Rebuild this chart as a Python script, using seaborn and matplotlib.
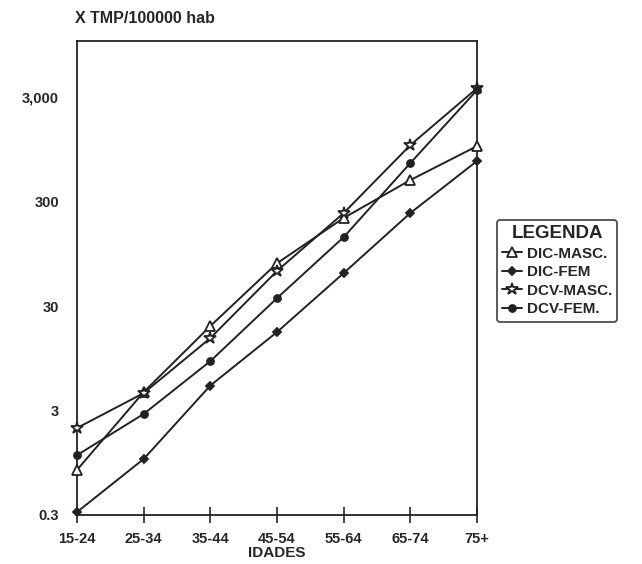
# taxas de mortalidade por idade (escala log)

import pandas as pd
import matplotlib
matplotlib.use("Agg")
import matplotlib.pyplot as plt
import seaborn as sns

idades = ["15-24", "25-34", "35-44", "45-54", "55-64", "65-74", "75+"]

dic_masc = [0.81, 4.5, 19.3, 77, 209, 482, 1019]
dic_fem = [0.32, 1.03, 5.2, 16.9, 62, 233, 733]
dcv_masc = [2.04, 4.4, 14.8, 65, 233, 1042, 3650]
dcv_fem = [1.12, 2.78, 8.9, 35.7, 137, 701, 3500]

series = ["DIC-MASC.", "DIC-FEM", "DCV-MASC.", "DCV-FEM."]
y_ticks = [0.3, 3, 30, 300, 3000]
y_tick_labels = ["0.3", "3", "30", "300", "3,000"]

sns.set_style("white")
plt.rcParams["font.family"] = ["Liberation Sans", "DejaVu Sans"]
plt.rcParams["font.weight"] = "bold"


def main():
    df = pd.DataFrame({
        "idade": idades * 4,
        "taxa": dic_masc + dic_fem + dcv_masc + dcv_fem,
        "serie": [s for s in series for _ in idades],
    })

    estilos = {
        "DIC-MASC.": dict(marker="^", markersize=7, markerfacecolor="white"),
        "DIC-FEM": dict(marker="D", markersize=4.5, markerfacecolor="#222222"),
        "DCV-MASC.": dict(marker="*", markersize=9, markerfacecolor="white"),
        "DCV-FEM.": dict(marker="o", markersize=5, markerfacecolor="#222222"),
    }

    fig = plt.figure(figsize=(6.42, 5.64), dpi=100)
    ax = fig.add_axes([0.12, 0.087, 0.623, 0.84])

    for s in series:
        sub = df[df["serie"] == s]
        sns.lineplot(data=sub, x="idade", y="taxa", ax=ax, color="#222222",
                     linewidth=1.4, markeredgecolor="#222222",
                     markeredgewidth=1.3, label=s, sort=False,
                     clip_on=False, zorder=3, **estilos[s])

    ax.set_yscale("log")
    ax.set_ylim(0.3, 10300)
    ax.set_xlim(0, 6)
    ax.set_yticks(y_ticks)
    ax.set_yticklabels(y_tick_labels)
    ax.minorticks_off()
    ax.tick_params(axis="y", length=0, pad=13, labelsize=10.5)
    ax.tick_params(axis="x", direction="inout", length=12, width=1.2,
                   bottom=True, labelsize=10.5, pad=6)
    for sp in ax.spines.values():
        sp.set_color("#222222")
        sp.set_linewidth(1.3)

    ax.set_xlabel("IDADES", fontsize=11, fontweight="bold", labelpad=0)
    ax.set_ylabel("")
    fig.text(0.117, 0.968, "X TMP/100000 hab", fontsize=11.5,
             fontweight="bold", ha="left", va="center")

    leg = ax.legend(loc="center left", bbox_to_anchor=(0.774, 0.52),
                    bbox_transform=fig.transFigure, title="LEGENDA",
                    frameon=True, fancybox=True, handlelength=1.3,
                    handletextpad=0.3, borderpad=0.35, labelspacing=0.3,
                    borderaxespad=0, prop={"weight": "bold", "size": 11})
    leg.get_title().set_fontweight("bold")
    leg.get_title().set_fontsize(13.5)
    leg.get_frame().set_edgecolor("#222222")
    leg.get_frame().set_linewidth(1.3)

    fig.savefig("out.png", dpi=100)
    plt.close(fig)


if __name__ == "__main__":
    main()
